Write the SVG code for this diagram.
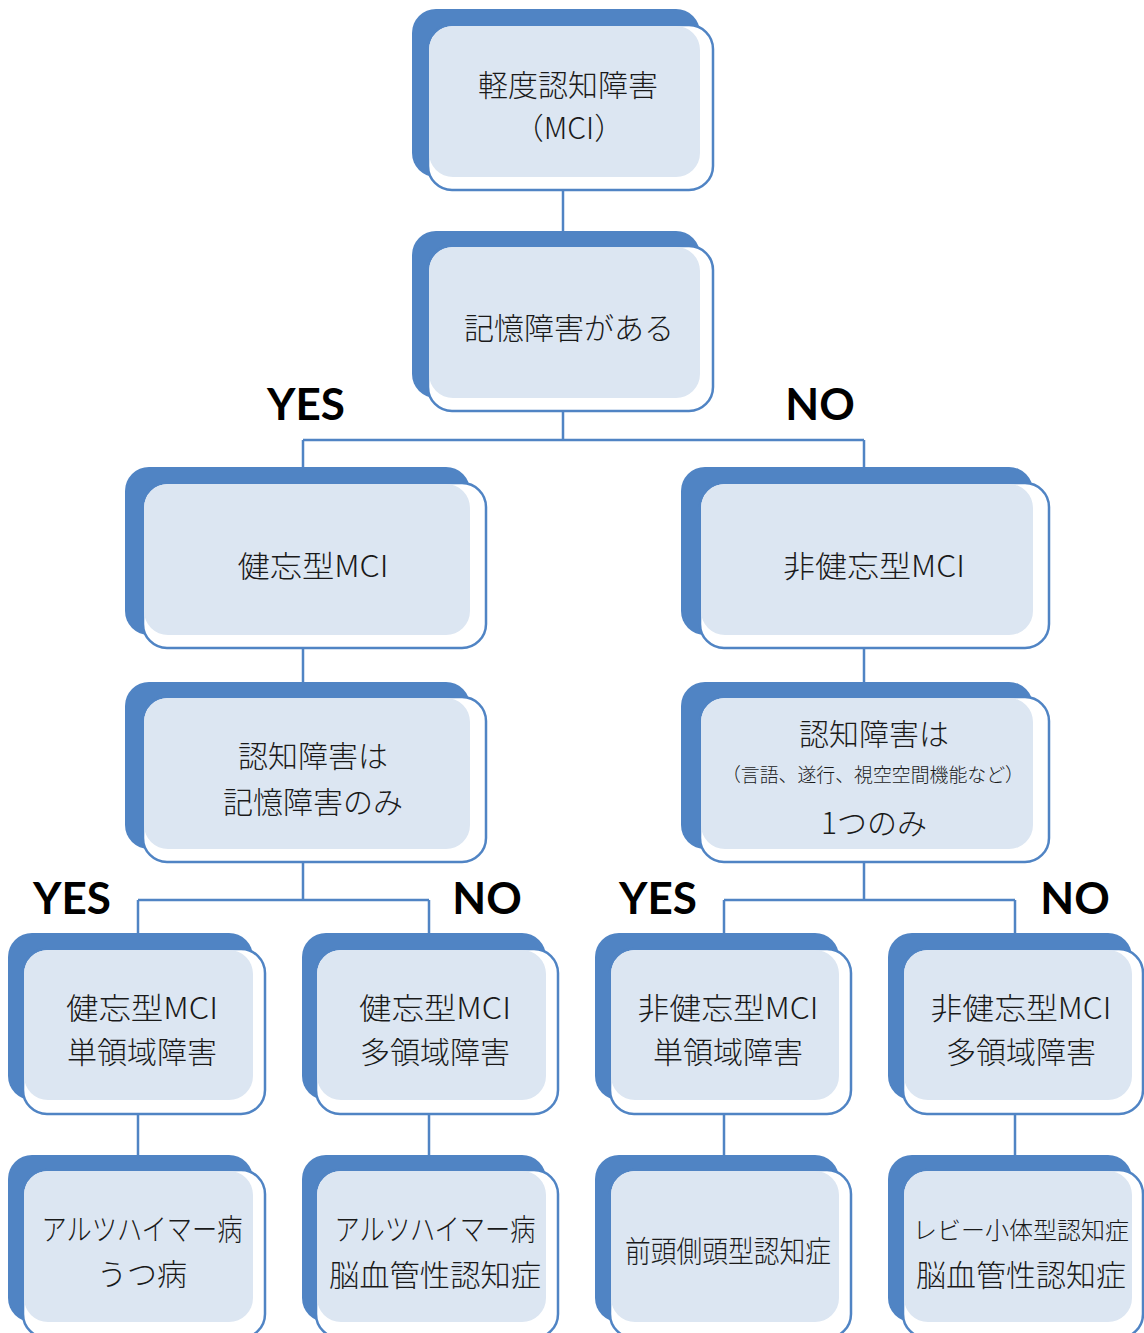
<svg xmlns="http://www.w3.org/2000/svg" width="1144" height="1333" viewBox="0 0 1144 1333">
<style>
.back{fill:#5084c4}
.front{fill:#ffffff;stroke:#5084c4;stroke-width:2.5}
.light{fill:#dce6f2}
.t{font-family:"Noto Sans CJK JP","Noto Sans",sans-serif;font-size:30px;fill:#1a1a1a;text-anchor:middle;font-weight:300}
.s{font-size:19px}
.lab{font-family:"Lato","Noto Sans",sans-serif;font-weight:700;font-size:44px;fill:#000;text-anchor:middle}
.c{fill:none;stroke:#5084c4;stroke-width:2.5}
</style>
<rect width="1144" height="1333" fill="#ffffff"/>
<g id="connectors">
<path class="c" d="M563,190V232"/>
<path class="c" d="M563,411V440M303,440H864M303,440V468M864,440V468"/>
<path class="c" d="M303,648V683M864,648V683"/>
<path class="c" d="M303,862V900M138,900H429M138,900V934M429,900V934"/>
<path class="c" d="M864,862V900M724,900H1015M724,900V934M1015,900V934"/>
<path class="c" d="M138,1114V1156M429,1114V1156M724,1114V1156M1015,1114V1156"/>
</g>
<g id="labels">
<text class="lab" x="306" y="420">YES</text>
<text class="lab" x="820" y="420">NO</text>
<text class="lab" x="72" y="914">YES</text>
<text class="lab" x="487" y="914">NO</text>
<text class="lab" x="658" y="914">YES</text>
<text class="lab" x="1075" y="914">NO</text>
</g>
<g id="n1">
<rect class="back" x="412" y="9" width="288" height="168" rx="24"/>
<rect class="front" x="428" y="25" width="285" height="165" rx="24"/>
<rect class="light" x="429" y="26" width="271" height="151" rx="24"/>
<text class="t" x="568" y="96">軽度認知障害</text>
<text class="t" x="569" y="139">（MCI）</text>
</g>
<g id="n2">
<rect class="back" x="412" y="231" width="288" height="167" rx="24"/>
<rect class="front" x="428" y="246" width="285" height="165" rx="24"/>
<rect class="light" x="429" y="247" width="271" height="151" rx="24"/>
<text class="t" x="569" y="339">記憶障害がある</text>
</g>
<g id="n3">
<rect class="back" x="125" y="467" width="345" height="168" rx="24"/>
<rect class="front" x="143" y="483" width="343" height="165" rx="24"/>
<rect class="light" x="144" y="484" width="326" height="151" rx="24"/>
<text class="t" x="313" y="577" textLength="151" lengthAdjust="spacingAndGlyphs">健忘型MCI</text>
</g>
<g id="n4">
<rect class="back" x="681" y="467" width="352" height="168" rx="24"/>
<rect class="front" x="700" y="483" width="349" height="165" rx="24"/>
<rect class="light" x="701" y="484" width="332" height="151" rx="24"/>
<text class="t" x="874" y="577" textLength="182" lengthAdjust="spacingAndGlyphs">非健忘型MCI</text>
</g>
<g id="n5">
<rect class="back" x="125" y="682" width="345" height="167" rx="24"/>
<rect class="front" x="143" y="697" width="343" height="165" rx="24"/>
<rect class="light" x="144" y="698" width="326" height="151" rx="24"/>
<text class="t" x="313" y="767">認知障害は</text>
<text class="t" x="313" y="813">記憶障害のみ</text>
</g>
<g id="n6">
<rect class="back" x="681" y="682" width="352" height="167" rx="24"/>
<rect class="front" x="700" y="697" width="349" height="165" rx="24"/>
<rect class="light" x="701" y="698" width="332" height="151" rx="24"/>
<text class="t" x="874" y="745">認知障害は</text>
<text class="t s" x="873" y="782" textLength="302" lengthAdjust="spacingAndGlyphs">（言語、遂行、視空空間機能など）</text>
<text class="t" x="874" y="834">1つのみ</text>
</g>
<g id="n7">
<rect class="back" x="8" y="933" width="245" height="167" rx="24"/>
<rect class="front" x="23" y="949" width="242" height="165" rx="24"/>
<rect class="light" x="24" y="950" width="229" height="150" rx="24"/>
<text class="t" x="142" y="1019" textLength="152" lengthAdjust="spacingAndGlyphs">健忘型MCI</text>
<text class="t" x="142" y="1063">単領域障害</text>
</g>
<g id="n8">
<rect class="back" x="302" y="933" width="244" height="167" rx="24"/>
<rect class="front" x="316" y="949" width="242" height="165" rx="24"/>
<rect class="light" x="317" y="950" width="229" height="150" rx="24"/>
<text class="t" x="435" y="1019" textLength="152" lengthAdjust="spacingAndGlyphs">健忘型MCI</text>
<text class="t" x="435" y="1063">多領域障害</text>
</g>
<g id="n9">
<rect class="back" x="595" y="933" width="244" height="167" rx="24"/>
<rect class="front" x="610" y="949" width="241" height="165" rx="24"/>
<rect class="light" x="611" y="950" width="228" height="150" rx="24"/>
<text class="t" x="728" y="1019" textLength="181" lengthAdjust="spacingAndGlyphs">非健忘型MCI</text>
<text class="t" x="728" y="1063">単領域障害</text>
</g>
<g id="n10">
<rect class="back" x="888" y="933" width="244" height="167" rx="24"/>
<rect class="front" x="903" y="949" width="240" height="165" rx="24"/>
<rect class="light" x="904" y="950" width="228" height="150" rx="24"/>
<text class="t" x="1021" y="1019" textLength="181" lengthAdjust="spacingAndGlyphs">非健忘型MCI</text>
<text class="t" x="1021" y="1063">多領域障害</text>
</g>
<g id="n11">
<rect class="back" x="8" y="1155" width="245" height="167" rx="24"/>
<rect class="front" x="23" y="1170" width="242" height="168" rx="24"/>
<rect class="light" x="24" y="1171" width="229" height="151" rx="24"/>
<text class="t" x="142" y="1240" textLength="201" lengthAdjust="spacingAndGlyphs">アルツハイマー病</text>
<text class="t" x="142" y="1285">うつ病</text>
</g>
<g id="n12">
<rect class="back" x="302" y="1155" width="244" height="167" rx="24"/>
<rect class="front" x="316" y="1170" width="242" height="168" rx="24"/>
<rect class="light" x="317" y="1171" width="229" height="151" rx="24"/>
<text class="t" x="435" y="1240" textLength="201" lengthAdjust="spacingAndGlyphs">アルツハイマー病</text>
<text class="t" x="435" y="1286" textLength="212" lengthAdjust="spacingAndGlyphs">脳血管性認知症</text>
</g>
<g id="n13">
<rect class="back" x="595" y="1155" width="244" height="167" rx="24"/>
<rect class="front" x="610" y="1170" width="241" height="168" rx="24"/>
<rect class="light" x="611" y="1171" width="228" height="151" rx="24"/>
<text class="t" x="728" y="1262" textLength="206" lengthAdjust="spacingAndGlyphs">前頭側頭型認知症</text>
</g>
<g id="n14">
<rect class="back" x="888" y="1155" width="244" height="167" rx="24"/>
<rect class="front" x="903" y="1170" width="240" height="168" rx="24"/>
<rect class="light" x="904" y="1171" width="228" height="151" rx="24"/>
<text class="t" x="1021" y="1239" style="font-size:24px">レビー小体型認知症</text>
<text class="t" x="1021" y="1286" textLength="210" lengthAdjust="spacingAndGlyphs">脳血管性認知症</text>
</g>
</svg>
